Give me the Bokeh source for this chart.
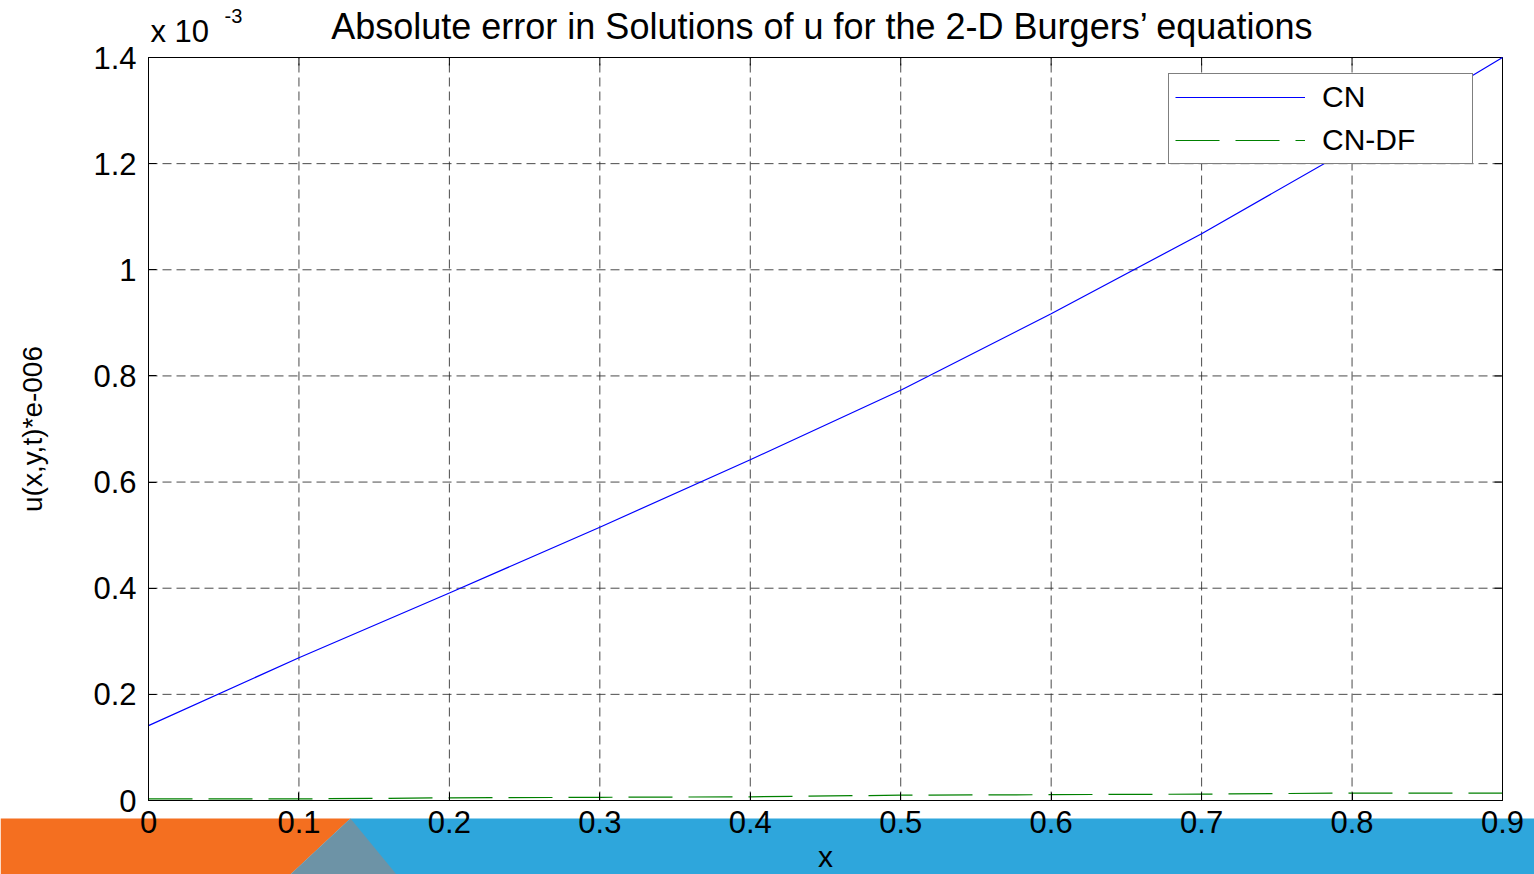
import math
from bokeh.plotting import figure
from bokeh.models import Range1d, Legend, LegendItem, Label, FixedTicker
from bokeh.embed import file_html
from bokeh.resources import INLINE

# ---- data (values in units of 1e-3) ----
x_vals = [0.0, 0.1, 0.2, 0.3, 0.4, 0.5, 0.6, 0.7, 0.8, 0.9]
cn_err = [0.141, 0.269, 0.391, 0.515, 0.642, 0.773, 0.917, 1.068, 1.230, 1.400]
cndf_err = [0.003, 0.003, 0.005, 0.006, 0.007, 0.010, 0.011, 0.012, 0.014, 0.014]
x_ticks = [0, 0.1, 0.2, 0.3, 0.4, 0.5, 0.6, 0.7, 0.8, 0.9]
y_ticks = [0, 0.2, 0.4, 0.6, 0.8, 1.0, 1.2, 1.4]
y_tick_labels = {0: "0", 0.2: "0.2", 0.4: "0.4", 0.6: "0.6", 0.8: "0.8",
                 1.0: "1", 1.2: "1.2", 1.4: "1.4"}
title_text = "Absolute error in Solutions of u for the 2-D Burgers\u2019 equations"
exponent_base = "x 10"
exponent_power = "-3"
x_label = "x"
y_label = "u(x,y,t)*e-006"
series_names = ["CN", "CN-DF"]

# ---- layout (pixels) ----
FONT = "Liberation Sans"
W, H = 1534, 874
BOX_L, BOX_R, BOX_T, BOX_B = 148, 1502, 57, 800
X0, X1 = x_ticks[0], x_ticks[-1]
Y0, Y1 = y_ticks[0], y_ticks[-1]
sx = (X1 - X0) / (BOX_R - BOX_L)
sy = (Y1 - Y0) / (BOX_B - BOX_T)


def px_x(px):
    return X0 + (px - BOX_L) * sx


def px_y(py):
    return Y0 + (BOX_B - py) * sy


# the frame covers the whole canvas; the axes sit at fixed positions
p = figure(width=W, height=H, output_backend="svg", toolbar_location=None,
           x_range=Range1d(px_x(0), px_x(W)), y_range=Range1d(px_y(H), px_y(0)),
           min_border=0, background_fill_color="white",
           border_fill_color="white")
p.outline_line_color = None
p.xgrid.visible = False
p.ygrid.visible = False

# decorative band at the bottom of the slide
BAND_T = 818
p.patch([px_x(v) for v in (0, 350, 290, 0)],
        [px_y(v) for v in (BAND_T, BAND_T, 874, 874)],
        fill_color="#f46f20", line_color=None)
p.patch([px_x(v) for v in (350, W, W, 290)],
        [px_y(v) for v in (BAND_T, BAND_T, 874, 874)],
        fill_color="#2ea6dc", line_color=None)
p.patch([px_x(v) for v in (350, 290, 396)],
        [px_y(v) for v in (BAND_T, 874, 874)],
        fill_color="#7d8f99", fill_alpha=0.8, line_color=None)

# dashed grid inside the axes box
gx = x_ticks[1:-1]
gy = y_ticks[1:-1]
p.segment(x0=gx, y0=[Y0] * len(gx), x1=gx, y1=[Y1] * len(gx),
          line_color="#2a2a2a", line_alpha=0.85, line_width=1, line_dash="9 5")
p.segment(x0=[X0] * len(gy), y0=gy, x1=[X1] * len(gy), y1=gy,
          line_color="#2a2a2a", line_alpha=0.85, line_width=1, line_dash="9 5")

# axes box
p.quad(left=X0, right=X1, bottom=Y0, top=Y1, fill_color=None,
       line_color="black", line_width=1)

# inward ticks on the top and right edges
p.ray(x=[X1] * len(y_ticks), y=y_ticks, length=8, length_units="screen",
      angle=math.pi, line_color="black", line_width=1)
p.ray(x=x_ticks, y=[Y1] * len(x_ticks), length=8, length_units="screen",
      angle=-math.pi / 2, line_color="black", line_width=1)

# axes
xa = p.xaxis[0]
ya = p.yaxis[0]
xa.fixed_location = Y0
ya.fixed_location = X0
xa.bounds = (X0, X1)
ya.bounds = (Y0, Y1)
xa.ticker = FixedTicker(ticks=x_ticks)
ya.ticker = FixedTicker(ticks=y_ticks)
ya.major_label_overrides = y_tick_labels
for ax in (xa, ya):
    ax.axis_line_color = "black"
    ax.major_tick_in = 8
    ax.major_tick_out = 0
    ax.minor_tick_in = 0
    ax.minor_tick_out = 0
    ax.major_tick_line_color = "black"
    ax.major_label_text_font = FONT
    ax.major_label_text_font_size = "31px"
    ax.major_label_text_color = "black"
    ax.axis_label_text_font = FONT
    ax.axis_label_text_font_style = "normal"
    ax.axis_label_text_color = "black"
xa.major_label_standoff = 10
ya.major_label_standoff = 12
xa.axis_label = x_label
xa.axis_label_text_font_size = "30px"
xa.axis_label_standoff = 4
ya.axis_label = y_label
ya.axis_label_text_font_size = "28px"
ya.axis_label_standoff = 42

# series
r_cn = p.line(x_vals, cn_err, line_color="#0000ff", line_width=1.2)
r_df = p.line(x_vals, cndf_err, line_color="#008000", line_width=1.2,
              line_dash="44 16")

legend = Legend(items=[LegendItem(label=series_names[0], renderers=[r_cn]),
                       LegendItem(label=series_names[1], renderers=[r_df])],
                location=(1168, H - 164), orientation="vertical",
                glyph_width=130, glyph_height=32, label_height=32,
                spacing=9, padding=6, margin=0, label_standoff=17,
                label_width=144,
                label_text_font=FONT, label_text_font_size="30px",
                label_text_color="black",
                border_line_color="black", border_line_width=1,
                background_fill_color="white", background_fill_alpha=1.0)
p.add_layout(legend, "center")

# title and exponent label
p.add_layout(Label(x=(X0 + X1) / 2, y=Y1, y_offset=31, x_offset=-3,
                   text=title_text, text_align="center",
                   text_baseline="alphabetic", text_font=FONT,
                   text_font_size="36px", text_color="black"))
p.add_layout(Label(x=X0, y=Y1, y_offset=26, x_offset=2,
                   text=exponent_base, text_align="left",
                   text_baseline="alphabetic", text_font=FONT,
                   text_font_size="31px", text_color="black"))
p.add_layout(Label(x=X0, y=Y1, y_offset=42, x_offset=76,
                   text=exponent_power, text_align="left",
                   text_baseline="alphabetic", text_font=FONT,
                   text_font_size="20px", text_color="black"))

open("out.html", "w").write(file_html(p, INLINE))
